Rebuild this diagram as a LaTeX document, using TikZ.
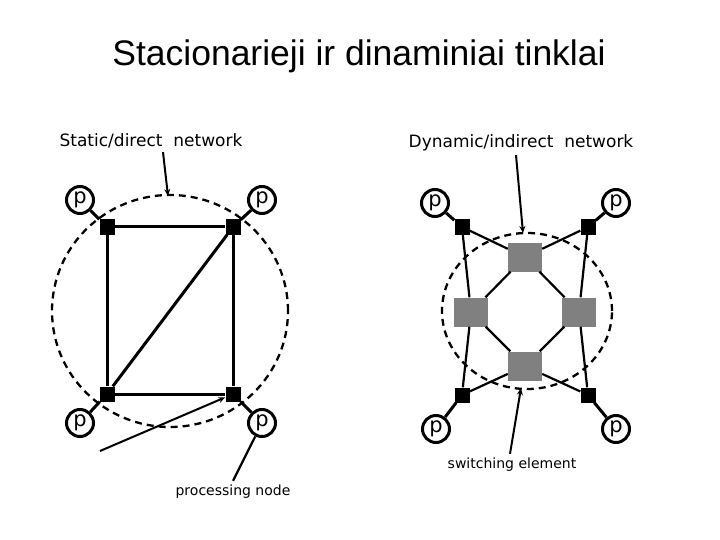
\documentclass[tikz,border=0pt]{standalone}
\usepackage{fontspec}
\setmainfont{Liberation Sans}
\newfontfamily\hand{DejaVu Sans}
\usetikzlibrary{arrows.meta}
\definecolor{swgray}{RGB}{128,128,128}
\tikzset{
  proc/.style={circle,draw,line width=3pt,minimum size=27pt,inner sep=0pt,
    font=\hand\fontsize{21}{21}\selectfont},
  pnode/.style={rectangle,fill=black,minimum size=15pt,inner sep=0pt},
  swel/.style={rectangle,fill=swgray,minimum width=34pt,minimum height=29pt,inner sep=0pt},
  link/.style={line width=3pt},
  thinlink/.style={line width=2.2pt},
  bound/.style={line width=2.3pt,dash pattern=on 7pt off 5pt},
  pointer/.style={line width=2pt,-{Stealth[length=7pt,width=6pt]}},
  caption/.style={anchor=base,font=\hand\fontsize{17}{17}\selectfont},
  smallcap/.style={anchor=base,font=\hand\fontsize{14}{14}\selectfont}
}
\begin{document}
\begin{tikzpicture}[x=1pt,y=-1pt]
	\useasboundingbox (0,0) rectangle (720,540);
	\node[anchor=base,font=\fontsize{35.5}{35.5}\selectfont] (title) at (359,66) {Stacionarieji ir dinaminiai tinklai};
	% static network
	\draw[bound] (170,311) ellipse [x radius=118pt, y radius=116pt];
	\node[pnode] (ls1) at (107,227) {};
	\node[pnode] (ls2) at (233,227) {};
	\node[pnode] (ls3) at (107,394) {};
	\node[pnode] (ls4) at (233,394) {};
	\node[proc] (lp1) at (80,200)  {p};
	\node[proc] (lp2) at (262,200) {p};
	\node[proc] (lp3) at (80,423)  {p};
	\node[proc] (lp4) at (262,423) {p};
	\draw[link] (lp1) -- (ls1);
	\draw[link] (lp2) -- (ls2);
	\draw[link] (lp3) -- (ls3);
	\draw[link] (lp4) -- (ls4);
	\draw[link] (ls1) -- (ls2);
	\draw[link] (ls1) -- (ls3);
	\draw[link] (ls2) -- (ls4);
	\draw[link] (ls3) -- (ls4);
	\draw[link] (ls3) -- (ls2);
	% dynamic network
	\draw[bound] (527,311) ellipse [x radius=85pt, y radius=78pt];
	\node[pnode] (rs1) at (462,227) {};
	\node[pnode] (rs2) at (588,227) {};
	\node[pnode] (rs3) at (462,395) {};
	\node[pnode] (rs4) at (588,395) {};
	\node[proc] (rp1) at (435,203) {p};
	\node[proc] (rp2) at (616,203) {p};
	\node[proc] (rp3) at (436,429) {p};
	\node[proc] (rp4) at (616,429) {p};
	\node[swel] (sw1) at (525,257) {};
	\node[swel] (sw2) at (471,312) {};
	\node[swel] (sw3) at (579,312) {};
	\node[swel] (sw4) at (525,366) {};
	\draw[link] (rp1) -- (rs1);
	\draw[link] (rp2) -- (rs2);
	\draw[link] (rp3) -- (rs3);
	\draw[link] (rp4) -- (rs4);
	\draw[thinlink] (rs1) -- (sw1);
	\draw[thinlink] (rs1) -- (sw2);
	\draw[thinlink] (rs2) -- (sw1);
	\draw[thinlink] (rs2) -- (sw3);
	\draw[thinlink] (rs3) -- (sw2);
	\draw[thinlink] (rs3) -- (sw4);
	\draw[thinlink] (rs4) -- (sw3);
	\draw[thinlink] (rs4) -- (sw4);
	\draw[thinlink] (sw1) -- (sw2);
	\draw[thinlink] (sw1) -- (sw3);
	\draw[thinlink] (sw2) -- (sw4);
	\draw[thinlink] (sw3) -- (sw4);
	% labels
	\node[caption] (lstatic) at (151,147) {Static/direct~~network};
	\node[caption] (rdyn) at (521,148) {Dynamic/indirect~~network};
	\node[smallcap] (procl) at (233,495) {processing node};
	\node[smallcap] (swl) at (512,468) {switching element};
	\coordinate (a1) at (168,196);
	\coordinate (a2) at (523,233);
	\coordinate (a3) at (521,388);
	\coordinate (c1) at (100,451);
	\draw[pointer] ([xshift=12pt]lstatic.south) -- (a1);
	\draw[pointer] ([xshift=-5pt]rdyn.south) -- (a2);
	\draw[pointer] ([xshift=-2pt]swl.north) -- (a3);
	\draw[pointer] (c1) -- (ls4);
	\draw[line width=2.2pt] (procl.north) -- (lp4);
\end{tikzpicture}
\end{document}
